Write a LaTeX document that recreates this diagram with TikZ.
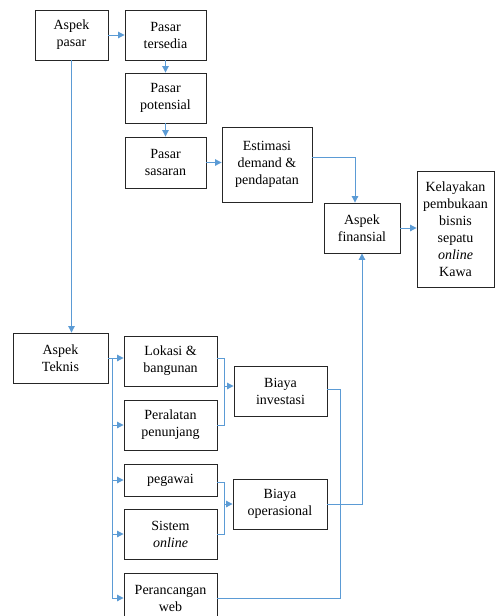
\documentclass[tikz,border=0pt]{standalone}
\usepackage{fontspec}
\setmainfont{Liberation Serif}
\usetikzlibrary{arrows.meta,calc}
\definecolor{conn}{HTML}{5B9BD5}
\tikzset{
  box/.style={draw=black!85,line width=0.9pt,align=center,inner sep=1pt,
    font=\fontsize{14}{17}\selectfont},
  cline/.style={draw=conn,line width=1pt},
  carr/.style={cline,-{Triangle[length=6.5pt,width=6.5pt]}}
}
\begin{document}
\begin{tikzpicture}[x=1pt,y=-1pt]
\useasboundingbox (0,0) rectangle (495,616);
\clip (0,0) rectangle (495,616);
% nodes
\node[box,minimum width=73,minimum height=50] (ap) at (71.5,35) {Aspek\\pasar};
\node[box,minimum width=81,minimum height=50] (pt) at (165.5,35) {Pasar\\tersedia};
\node[box,minimum width=81,minimum height=50] (pp) at (165.5,98) {Pasar\\potensial};
\node[box,minimum width=81,minimum height=51] (ps) at (165.5,162.5) {Pasar\\sasaran};
\node[box,minimum width=90,minimum height=75] (est) at (267,164.5) {Estimasi\\demand \&\\pendapatan};
\node[box,minimum width=76,minimum height=50] (fin) at (362,228) {Aspek\\finansial};
\node[box,minimum width=77,minimum height=116] (kel) at (455.5,229) {Kelayakan\\pembukaan\\bisnis\\sepatu\\\textit{online}\\Kawa};
\node[box,minimum width=95,minimum height=50] (tek) at (60.5,358) {Aspek\\Teknis};
\node[box,minimum width=93,minimum height=50] (lok) at (170.5,361) {Lokasi \&\\bangunan};
\node[box,minimum width=93,minimum height=50] (per) at (170.5,425) {Peralatan\\penunjang};
\node[box,minimum width=93,minimum height=32] (peg) at (170.5,480) {pegawai};
\node[box,minimum width=93,minimum height=50] (sis) at (170.5,534) {Sistem\\\textit{online}};
\node[box,minimum width=93,minimum height=50] (web) at (170.5,598) {Perancangan\\web};
\node[box,minimum width=93,minimum height=50] (inv) at (280.5,391) {Biaya\\investasi};
\node[box,minimum width=94,minimum height=50] (ops) at (280,504) {Biaya\\operasional};
% market chain
\draw[carr] (ap.east) -- (pt.west);
\draw[carr] (pt.south) -- (pp.north);
\draw[carr] (pp.south) -- (ps.north);
\draw[carr] (ps.east) -- (ps.east -| est.west);
\draw[carr] ([yshift=7.5pt]est.east) -| ([xshift=-7pt]fin.north);
\draw[carr] (fin.east) -- (fin.east -| kel.west);
\draw[carr] (ap.south) -- (ap.south |- tek.north);
% technical bus
\coordinate (b0) at ($(tek.east)+(4,0)$);
\draw[cline] (tek.east) -- (b0);
\draw[carr] (tek.east) -- (tek.east -| lok.west);
\draw[cline] (b0) -- (b0 |- web.west);
\draw[carr] (b0 |- per.west) -- (per.west);
\draw[carr] (b0 |- peg.west) -- (peg.west);
\draw[carr] (b0 |- sis.west) -- (sis.west);
\draw[carr] (b0 |- web.west) -- (web.west);
% brackets
\coordinate (c1) at ($(lok.east)+(7,0)$);
\draw[cline] ([yshift=3pt]lok.east) -| (c1 |- per.east) -- (per.east);
\draw[carr] ([yshift=5pt]inv.west -| c1) -- ([yshift=5pt]inv.west);
\coordinate (c2) at ($(peg.east)+(7,0)$);
\draw[cline] ([yshift=-2pt]peg.east) -| (c2 |- sis.east) -- (sis.east);
\draw[carr] (ops.west -| c2) -- (ops.west);
% cost lines
\coordinate (d1) at ($(inv.east)+(13,0)$);
\draw[cline] ([yshift=2pt]inv.east) -| (d1 |- web.east) -- (web.east);
\draw[carr] (ops.east) -| (fin.south);
\end{tikzpicture}
\end{document}
